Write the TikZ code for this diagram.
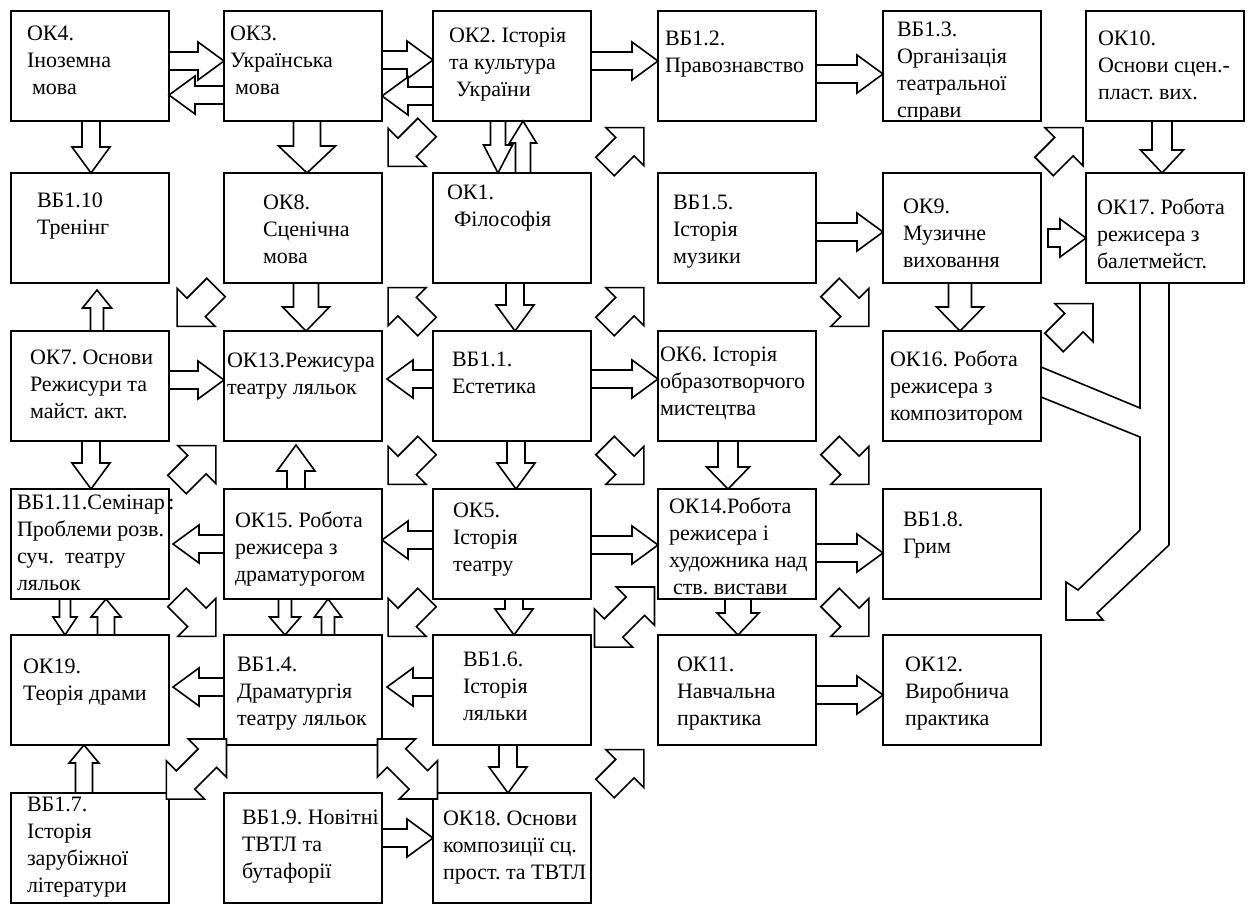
\documentclass[tikz,border=0pt]{standalone}
\usepackage{fontspec}
\setmainfont{Liberation Serif}
\usetikzlibrary{calc,positioning}

% sizes of the block arrows: half shaft, half head, head length
\def\fasw{4.5pt}\def\fahw{9.5pt}\def\fahl{13pt}

\newcommand{\boxtext}[3]{\parbox[t][55pt][t]{79pt}{\raggedright\leftskip=#1pt\vspace*{#2pt}#3}}

\newcommand{\fatarrow}[3][]{%
  \path (#2) coordinate (fa-s) (#3) coordinate (fa-e);
  \pgfpointdiff{\pgfpointanchor{fa-s}{center}}{\pgfpointanchor{fa-e}{center}}%
  \pgfgetlastxy{\fadx}{\fady}%
  \pgfmathsetmacro{\falen}{veclen(\fadx,\fady)}%
  \pgfmathsetmacro{\faang}{atan2(\fady,\fadx)}%
  \draw[fat,#1,shift={(fa-s)},rotate=\faang]
    (0pt,-\fasw) -- ({\falen pt-\fahl},-\fasw) -- ({\falen pt-\fahl},-\fahw)
    -- (\falen pt,0pt) -- ({\falen pt-\fahl},\fahw) -- ({\falen pt-\fahl},\fasw)
    -- (0pt,\fasw) -- cycle;}

\newcommand{\fatboth}[3][]{%
  \path (#2) coordinate (fa-s) (#3) coordinate (fa-e);
  \pgfpointdiff{\pgfpointanchor{fa-s}{center}}{\pgfpointanchor{fa-e}{center}}%
  \pgfgetlastxy{\fadx}{\fady}%
  \pgfmathsetmacro{\falen}{veclen(\fadx,\fady)}%
  \pgfmathsetmacro{\faang}{atan2(\fady,\fadx)}%
  \draw[fat,#1,shift={(fa-s)},rotate=\faang]
    (0pt,0pt) -- (\fahl,\fahw) -- (\fahl,\fasw) -- ({\falen pt-\fahl},\fasw)
    -- ({\falen pt-\fahl},\fahw) -- (\falen pt,0pt) -- ({\falen pt-\fahl},-\fahw)
    -- ({\falen pt-\fahl},-\fasw) -- (\fahl,-\fasw) -- (\fahl,-\fahw) -- cycle;}

% diagonal arrows sit in the gap between four boxes
\newcommand{\diagarrow}[3][]{%
  \path (#2) coordinate (da-m);
  \fatarrow[diag,#1]{$(da-m)+(#3+180:13.75pt)$}{$(da-m)+(#3:13.75pt)$}}
\newcommand{\diagboth}[3][]{%
  \path (#2) coordinate (da-m);
  \fatboth[diag,#1]{$(da-m)+(#3+180:21.25pt)$}{$(da-m)+(#3:21.25pt)$}}

\tikzset{
  box/.style={draw, line width=1pt, inner sep=0pt, outer sep=0pt,
    font=\fontsize{11}{13.5}\selectfont},
  fat/.style={draw, fill=white, line width=0.8pt, line join=miter},
  fa size/.code args={#1/#2/#3}{\def\fasw{#1}\def\fahw{#2}\def\fahl{#3}},
  diag/.style={fa size=6.5pt/13.5pt/13.5pt},
}

\begin{document}
\begin{tikzpicture}[x=0.5pt,y=-0.5pt]
  \useasboundingbox (0,0) rectangle (1253,904);
  % row 1
  \node[box] (ok4) at (90,66) {\boxtext{8}{7.5}{ОК4.\\Іноземна\\\hspace*{2.5pt}мова}};
  \node[box,right=27.5pt of ok4] (ok3) {\boxtext{3}{7.5}{ОК3.\\Українська\\\hspace*{2.5pt}мова}};
  \node[box,right=25.5pt of ok3] (ok2) {\boxtext{8}{8.5}{ОК2.~Історія\\та~культура\\\hspace*{3.5pt}України}};
  \node[box,right=33.5pt of ok2] (bb12) {\boxtext{3.5}{10}{ВБ1.2.\\Правознавство}};
  \node[box,right=33.5pt of bb12] (bb13) {\boxtext{7}{5.5}{ВБ1.3.\\Організація\\театральної\\справи}};
  \node[box,right=22.5pt of bb13] (ok10) {\boxtext{6}{10}{ОК10.\\Основи~сцен.-\\пласт.~вих.}};
  % row 2
  \node[box,below=26pt of ok4] (bb110) {\boxtext{13}{10}{ВБ1.10\\Тренінг}};
  \node[box,right=27.5pt of bb110] (ok8) {\boxtext{19.5}{11}{ОК8.\\Сценічна\\мова}};
  \node[box,right=25.5pt of ok8] (ok1) {\boxtext{7}{6}{ОК1.\\\hspace*{3.5pt}Філософія}};
  \node[box,right=33.5pt of ok1] (bb15) {\boxtext{7.5}{11}{ВБ1.5.\\Історія\\музики}};
  \node[box,right=33.5pt of bb15] (ok9) {\boxtext{10}{13}{ОК9.\\Музичне\\виховання}};
  \node[box,right=22.5pt of ok9] (ok17) {\boxtext{5.5}{13}{ОК17.~Робота\\режисера~з\\балетмейст.}};
  % row 3
  \node[box,below=24pt of bb110] (ok7) {\boxtext{9.5}{9.5}{ОК7.~Основи\\Режисури~та\\майст.~акт.}};
  \node[box,right=27.5pt of ok7] (ok13) {\boxtext{1.5}{11}{ОК13.Режисура\\театру~ляльок}};
  \node[box,right=25.5pt of ok13] (bb11) {\boxtext{9.5}{10.5}{ВБ1.1.\\Естетика}};
  \node[box,right=33.5pt of bb11] (ok6) {\boxtext{1}{8}{ОК6.~Історія\\образотворчого\\мистецтва}};
  \node[box,right=33.5pt of ok6] (ok16) {\boxtext{3.5}{10}{ОК16.~Робота\\режисера~з\\композитором}};
  % row 4
  \node[box,below=24pt of ok7] (bb111) {\boxtext{3}{3}{ВБ1.11.Семінар~:\\Проблеми~розв.\\суч.~~театру\\ляльок}};
  \node[box,right=27.5pt of bb111] (ok15) {\boxtext{5.5}{11.5}{ОК15.~Робота\\режисера~з\\драматурогом}};
  \node[box,right=25.5pt of ok15] (ok5) {\boxtext{10}{7}{ОК5.\\Історія\\театру}};
  \node[box,right=33.5pt of ok5] (ok14) {\boxtext{5.5}{4.5}{ОК14.Робота\\режисера~і\\художника~над\\\hspace*{2pt}ств.~вистави}};
  \node[box,right=33.5pt of ok14] (bb18) {\boxtext{10}{11.5}{ВБ1.8.\\Грим}};
  % row 5
  \node[box,below=18pt of bb111] (ok19) {\boxtext{6}{12}{ОК19.\\Теорія~драми}};
  \node[box,right=27.5pt of ok19] (bb14) {\boxtext{6.5}{11}{ВБ1.4.\\Драматургія\\театру~ляльок}};
  \node[box,right=25.5pt of bb14] (bb16) {\boxtext{15}{8.5}{ВБ1.6.\\Історія\\ляльки}};
  \node[box,right=33.5pt of bb16] (ok11) {\boxtext{9.5}{11}{ОК11.\\Навчальна\\практика}};
  \node[box,right=33.5pt of ok11] (ok12) {\boxtext{11}{11}{ОК12.\\Виробнича\\практика}};
  % row 6
  \node[box,below=24pt of ok19] (bb17) {\boxtext{8}{2}{ВБ1.7.\\Історія\\зарубіжної\\літератури}};
  \node[box,right=27.5pt of bb17] (bb19) {\boxtext{9}{8.5}{ВБ1.9.~Новітні\\ТВТЛ~та\\бутафорії}};
  \node[box,right=25.5pt of bb19] (ok18) {\boxtext{5}{9}{ОК18.~Основи\\композиції~сц.\\прост.~та~ТВТЛ}};

  % horizontal arrows
  \fatarrow{$(ok4.east)+(0,-5)$}{$(ok3.west)+(0,-5)$}
  \fatarrow{$(ok3.west)+(0,29)$}{$(ok4.east)+(0,29)$}
  \fatarrow{$(ok3.east)+(0,-6)$}{$(ok2.west)+(0,-6)$}
  \fatarrow{$(ok2.west)+(0,30)$}{$(ok3.east)+(0,30)$}
  \fatarrow{$(ok2.east)+(0,-5)$}{$(bb12.west)+(0,-5)$}
  \fatarrow{$(bb12.east)+(0,8)$}{$(bb13.west)+(0,8)$}
  \fatarrow{$(bb15.east)+(0,4)$}{$(ok9.west)+(0,4)$}
  \fatarrow{$(ok9.east)+(7,10)$}{$(ok17.west)+(0,10)$}
  \fatarrow{$(ok7.east)+(0,-6)$}{$(ok13.west)+(0,-6)$}
  \fatarrow{$(bb11.west)+(0,-7)$}{$(ok13.east)+(5,-7)$}
  \fatarrow{$(bb11.east)+(0,-7)$}{$(ok6.west)+(0,-7)$}
  \fatarrow{$(ok15.west)$}{$(bb111.east)+(4,0)$}
  \fatarrow{$(ok5.west)+(0,-4)$}{$(ok15.east)+(0,-4)$}
  \fatarrow{$(ok5.east)+(0,1)$}{$(ok14.west)+(0,1)$}
  \fatarrow{$(ok14.east)+(0,9)$}{$(bb18.west)+(0,9)$}
  \fatarrow{$(bb14.west)+(0,-3)$}{$(ok19.east)+(4,-3)$}
  \fatarrow{$(bb16.west)+(0,-3)$}{$(bb14.east)+(5,-3)$}
  \fatarrow{$(ok11.east)+(0,5)$}{$(ok12.west)+(0,5)$}
  \fatarrow{$(bb19.east)+(0,-10)$}{$(ok18.west)+(0,-10)$}

  % vertical arrows
  \fatarrow{$(ok4.south)+(1,0)$}{$(bb110.north)+(1,0)$}
  \fatarrow[fa size=6.75pt/14.25pt/13.5pt]{$(ok3.south)+(4,0)$}{$(ok8.north)+(4,0)$}
  \fatarrow[fa size=3.75pt/7.25pt/14pt]{$(ok2.south)+(-14,0)$}{$(ok1.north)+(-14,0)$}
  \fatarrow[fa size=3.75pt/6.75pt/11pt]{$(ok1.north)+(11,0)$}{$(ok2.south)+(11,0)$}
  \fatarrow[fa size=5pt/10.75pt/11.5pt]{$(ok10.south)+(-3,0)$}{$(ok17.north)+(-3,0)$}
  \fatarrow[fa size=3.25pt/7.25pt/9pt]{$(ok7.north)+(7,0)$}{$(bb110.south)+(7,7)$}
  \fatarrow[fa size=6.25pt/11.75pt/12pt]{$(ok8.south)+(3,0)$}{$(ok13.north)+(3,0)$}
  \fatarrow{$(ok1.south)+(3,0)$}{$(bb11.north)+(3,0)$}
  \fatarrow[fa size=5.75pt/11.75pt/12pt]{$(ok9.south)+(-2,0)$}{$(ok16.north)+(-2,0)$}
  \fatarrow{$(ok7.south)+(1,0)$}{$(bb111.north)+(1,0)$}
  \fatarrow{$(ok15.north)+(-7,0)$}{$(ok13.south)+(-7,4)$}
  \fatarrow{$(bb11.south)+(4,0)$}{$(ok5.north)+(4,0)$}
  \fatarrow[fa size=5pt/10.75pt/11pt]{$(ok6.south)+(-9,0)$}{$(ok14.north)+(-9,0)$}
  \fatarrow[fa size=2.75pt/6pt/9pt]{$(bb111.south)+(-25,0)$}{$(ok19.north)+(-25,0)$}
  \fatarrow[fa size=4.25pt/7.5pt/9pt]{$(ok19.north)+(16,0)$}{$(bb111.south)+(16,0)$}
  \fatarrow[fa size=3.25pt/7.75pt/9pt]{$(ok15.south)+(-18,0)$}{$(bb14.north)+(-18,0)$}
  \fatarrow[fa size=3.25pt/6.75pt/9pt]{$(bb14.north)+(25,0)$}{$(ok15.south)+(25,0)$}
  \fatarrow{$(ok5.south)+(2,0)$}{$(bb16.north)+(2,0)$}
  \fatarrow[fa size=6.5pt/10.5pt/11pt]{$(ok14.south)+(1,0)$}{$(ok11.north)+(1,0)$}
  \fatarrow[fa size=4.25pt/7.5pt/9pt]{$(bb17.north)+(-6,0)$}{$(ok19.south)+(-6,0)$}
  \fatarrow{$(bb16.south)+(-4,0)$}{$(ok18.north)+(-4,0)$}

  % diagonal arrows
  \diagarrow{$(ok2.south west)!.5!(ok8.north east)$}{225}
  \diagarrow{$(ok1.north east)!.5!(bb12.south west)$}{45}
  \diagarrow{$(ok9.north east)!.5!(ok10.south west)$}{45}
  \diagarrow{$(ok8.south west)!.5!(ok7.north east)$}{225}
  \diagarrow{$(bb11.north west)!.5!(ok8.south east)$}{135}
  \diagarrow{$(bb11.north east)!.5!(bb15.south west)$}{45}
  \diagarrow{$(bb15.south east)!.5!(ok16.north west)$}{-45}
  \diagarrow{$(ok16.north east)!.5!(ok17.south west)+(10,16)$}{45}
  \diagarrow{$(bb111.north east)!.5!(ok13.south west)$}{45}
  \diagarrow{$(bb11.south west)!.5!(ok15.north east)$}{225}
  \diagarrow{$(bb11.south east)!.5!(ok14.north west)$}{-45}
  \diagarrow{$(ok6.south east)!.5!(bb18.north west)$}{-45}
  \diagarrow{$(bb111.south east)!.5!(bb14.north west)$}{-45}
  \diagarrow{$(ok5.south west)!.5!(bb14.north east)$}{225}
  \diagboth{$(bb16.north east)!.5!(ok14.south west)$}{45}
  \diagarrow{$(ok14.south east)!.5!(ok12.north west)$}{-45}
  \diagboth{$(bb17.north east)!.5!(bb14.south west)$}{45}
  \diagboth{$(bb14.south east)!.5!(ok18.north west)$}{-45}
  \diagarrow{$(ok18.north east)!.5!(ok11.south west)$}{45}

  % OK17 and OK16 into OK12
  \draw[fat,fill=none] ($(ok17.south west)+(83,0)$) -- ++(0,262) -- ++(-72,68) -- ++(6,7)
    -- ++(-37,0) -- ++(0,-38) -- ++(12,8) -- ++(62,-60) -- ++(0,-93) -- ($(ok16.east)+(0,11)$);
  \draw[fat,fill=none] ($(ok16.east)+(0,-19)$) -- ($(ok17.south west)+(54,125)$) -- ($(ok17.south west)+(54,0)$);
\end{tikzpicture}
\end{document}
